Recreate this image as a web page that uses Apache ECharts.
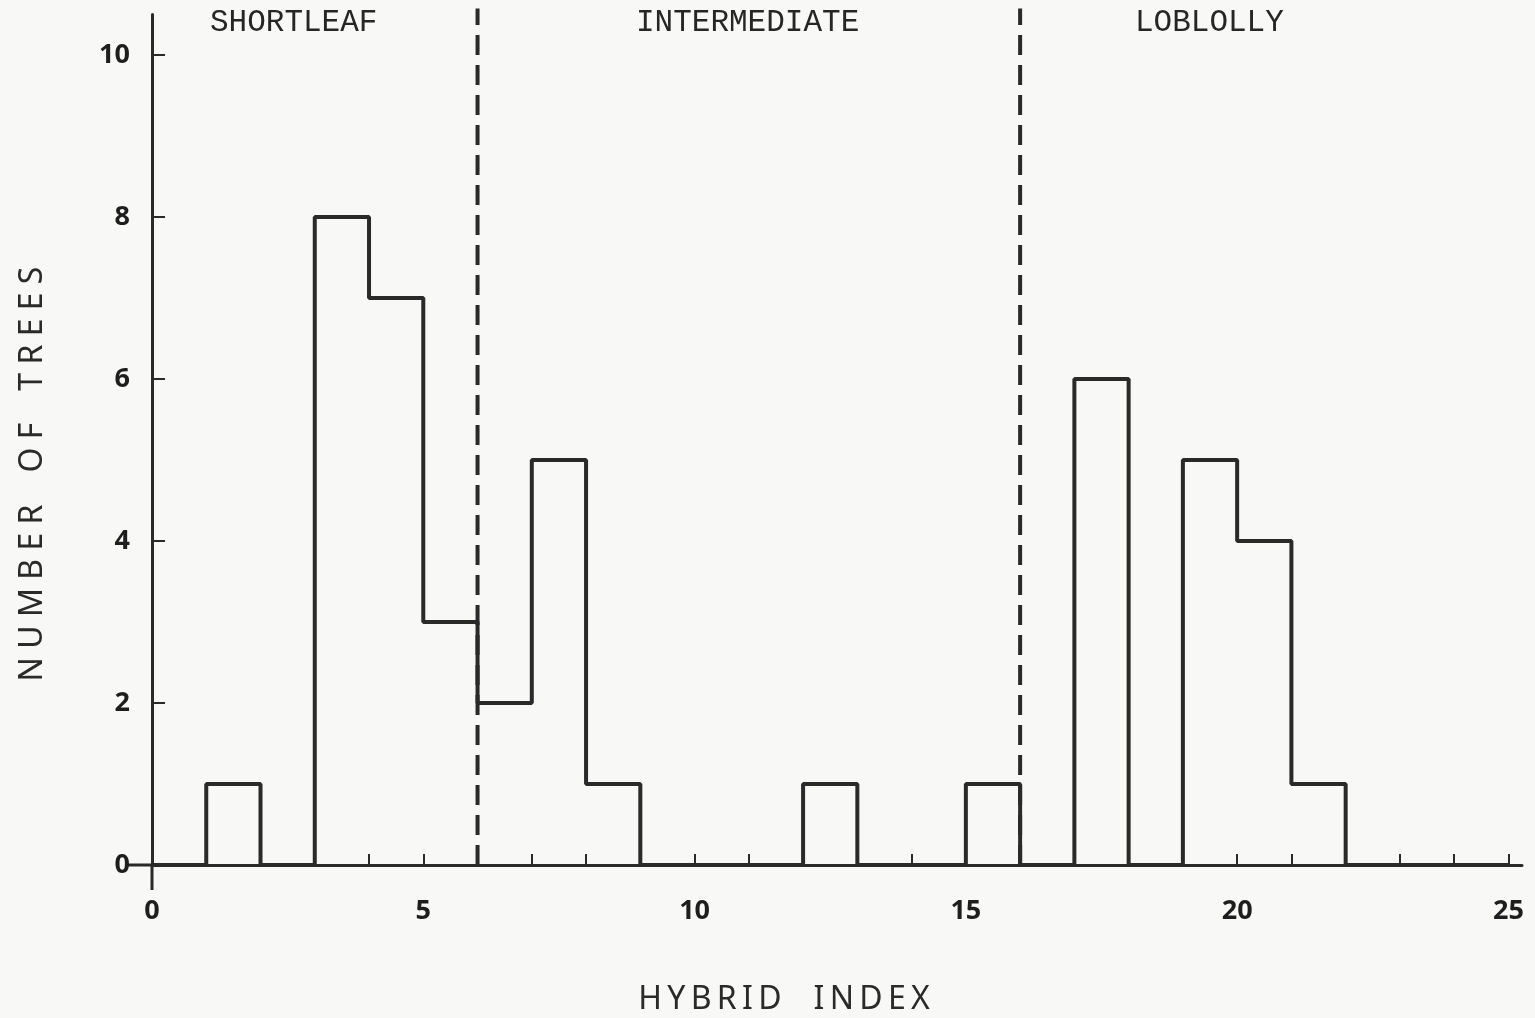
<!DOCTYPE html>
<html>
<head>
<meta charset="utf-8">
<script src="https://cdn.jsdelivr.net/npm/echarts@6/dist/echarts.min.js"></script>
<style>
html,body{margin:0;padding:0;background:#f8f8f6;}
#chart{width:1535px;height:1018px;}
</style>
</head>
<body>
<div id="chart"></div>
<script>
// Data
const binStarts = [0,1,2,3,4,5,6,7,8,9,10,11,12,13,14,15,16,17,18,19,20,21,22,23,24];
const treeCounts = [0,1,0,8,7,3,2,5,1,0,0,0,1,0,0,1,0,6,0,5,4,1,0,0,0];
const dividers = [6, 16];
const regionNames = ['SHORTLEAF', 'INTERMEDIATE', 'LOBLOLLY'];
const xTickLabels = [0,5,10,15,20,25];
const yTickLabels = [0,2,4,6,8,10];
const xTitle = 'HYBRID INDEX';
const yTitle = 'NUMBER OF TREES';

const ink = '#2a2a2a';
const stepData = binStarts.map((x, i) => [x, treeCounts[i]]);
stepData.push([25, 0]);

const minorTicks = [];
for (let i = 1; i <= 25; i++) minorTicks.push(i);

// spread letters (zrender has no letter-spacing)
function spread(s, letterGap, wordGap) {
  return s.split(' ').map(w => w.split('').join(letterGap)).join(wordGap);
}

const chart = echarts.init(document.getElementById('chart'));
chart.setOption({
  backgroundColor: '#f8f8f6',
  animation: false,
  grid: {left: 152, right: 13, top: 14.5, bottom: 153},
  xAxis: {
    type: 'value', min: 0, max: 25.25,
    axisLine: {show: true, onZero: true, lineStyle: {color: ink, width: 3}},
    axisTick: {show: true, inside: true, length: 11, customValues: minorTicks, lineStyle: {color: ink, width: 2}},
    axisLabel: {customValues: xTickLabels, margin: 33, color: '#1e1e1e', fontFamily: 'Open Sans', fontWeight: 'bold', fontSize: 27},
    splitLine: {show: false}
  },
  yAxis: {
    type: 'value', min: 0, max: 10.5,
    axisLine: {show: true, lineStyle: {color: ink, width: 3}},
    axisTick: {show: true, inside: true, length: 13, customValues: yTickLabels, lineStyle: {color: ink, width: 2}},
    axisLabel: {customValues: yTickLabels, margin: 22, color: '#1e1e1e', fontFamily: 'Open Sans', fontWeight: 'bold', fontSize: 27},
    splitLine: {show: false}
  },
  series: [{
    type: 'line',
    step: 'end',
    data: stepData,
    symbol: 'none',
    clip: false,
    z: 2,
    lineStyle: {color: ink, width: 4}
  }]
});

// dividers and small axis extensions, placed through the chart's own scales
const o = chart.convertToPixel({gridIndex: 0}, [0, 0]);
const dividerGraphics = dividers.map(d => {
  const p0 = chart.convertToPixel({gridIndex: 0}, [d, 0]);
  const p1 = chart.convertToPixel({gridIndex: 0}, [d, 10.5]);
  return {type: 'line', z: 1, shape: {x1: p0[0], y1: p0[1], x2: p1[0], y2: p1[1] - 6},
          style: {stroke: ink, lineWidth: 4, lineDash: [20, 10]}};
});
chart.setOption({
  graphic: dividerGraphics.concat([
    {type: 'line', shape: {x1: o[0], y1: o[1], x2: o[0], y2: o[1] + 25}, style: {stroke: ink, lineWidth: 3}},
    {type: 'line', shape: {x1: o[0] - 26, y1: o[1], x2: o[0], y2: o[1]}, style: {stroke: ink, lineWidth: 3}},
    {type: 'text', left: 210, top: 7, style: {text: regionNames[0], fontFamily: 'Liberation Mono', fontSize: 31, fill: '#262626'}},
    {type: 'text', left: 636, top: 7, style: {text: regionNames[1], fontFamily: 'Liberation Mono', fontSize: 31, fill: '#262626'}},
    {type: 'text', left: 1135, top: 7, style: {text: regionNames[2], fontFamily: 'Liberation Mono', fontSize: 31, fill: '#262626'}},
    {type: 'text', x: 784, y: 1000, style: {text: spread(xTitle, '\u2009', '\u2002\u2002'), fontFamily: 'Noto Sans', fontSize: 32, fill: '#2a2a2a', align: 'center', verticalAlign: 'middle'}},
    {type: 'text', x: 33, y: 474, rotation: Math.PI / 2, style: {text: spread(yTitle, ' ', '\u2002\u2002'), fontFamily: 'Noto Sans', fontSize: 32, fill: '#2a2a2a', align: 'center', verticalAlign: 'middle'}}
  ])
});
</script>
</body>
</html>
